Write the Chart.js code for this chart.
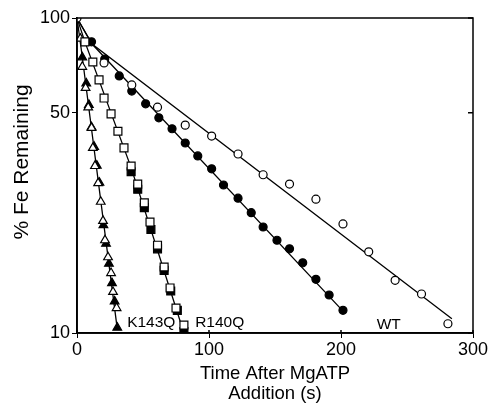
<!DOCTYPE html>
<html>
<head>
<meta charset="utf-8">
<script src="https://cdn.jsdelivr.net/npm/chart.js@4.4.0/dist/chart.umd.min.js"></script>
<style>
  html, body { margin: 0; padding: 0; background: #fff; }
  #wrap { width: 491px; height: 408px; }
</style>
</head>
<body>
<div id="wrap"><canvas id="feChart" width="491" height="408"></canvas></div>
<script>
// Values (time in s, % Fe remaining)
const wtOpenX = [0, 20.5, 41.5, 61, 82, 102, 122, 141, 161, 181, 201.5, 221, 241, 261, 281];
const wtOpenY = [100, 72, 61.3, 52.1, 45.7, 42.2, 37, 31.8, 29.7, 26.6, 22.2, 18.1, 14.7, 13.3, 10.7];

const wtFilledX = [11, 21, 32, 41.5, 52, 62, 72, 82, 91.5, 102, 111, 122, 132, 141, 151.5, 161, 171, 181, 191, 201.5];
const wtFilledY = [84, 74.1, 65.5, 58.6, 53.4, 48.2, 44.5, 40.1, 36.5, 33.2, 29.5, 26.8, 24.1, 21.7, 19.7, 18.5, 16.7, 14.8, 13.2, 11.8];

const r140OpenX = [6, 12, 16.7, 20.5, 25.8, 31, 35.6, 41, 46, 51, 55.3, 61, 66, 70.5, 75, 81];
const r140OpenY = [84, 72.5, 63.6, 55.7, 49.6, 43.7, 38.7, 33.9, 29.7, 25.9, 22.5, 19.0, 16.2, 13.9, 12.0, 10.6];

const r140FilledX = [41, 46, 51, 56, 61, 66, 71, 76, 81];
const r140FilledY = [32.5, 28.6, 25, 21.3, 18.5, 15.8, 13.6, 11.8, 10.1];

const k143OpenX = [2.5, 4, 6.5, 8.5, 11, 12, 13.6, 16, 18, 19.7, 21.2, 23.5, 25.8, 27.3, 30];
const k143OpenY = [86, 70, 60, 52, 44.8, 38.7, 33.9, 29.9, 26.1, 22.7, 19.7, 17.4, 15.5, 13.5, 12];

const k143FilledX = [4, 7, 9, 11, 13, 15, 17, 20, 22, 24.2, 26.5, 28.5, 30.5];
const k143FilledY = [75, 62, 53, 45, 39, 34, 30, 22, 19.2, 16.6, 14.4, 12.6, 10.4];

// fitted lines
const wtOpenFitX = [0, 11.4, 284];
const wtOpenFitY = [100, 82.7, 11.1];
const wtFilledFitX = [0, 11.4, 201];
const wtFilledFitY = [100, 82.7, 11.8];
const r140FitX = [0, 6, 41, 81];
const r140FitY = [100, 84, 33.5, 10];
const k143FitX = [0, 3.5, 30.5];
const k143FitY = [100, 78, 10.3];

const xTicks = [0, 100, 200, 300];
const yTicks = [10, 50, 100];
const labelText = ['K143Q', 'R140Q', 'WT'];
const labelX = [38, 89.5, 227];
const labelY = [10.8, 10.8, 10.6];

const FONT = '"Liberation Sans", Arial, sans-serif';

const pts = (xs, ys) => xs.map((x, i) => ({ x: x, y: ys[i] }));

const fitLine = (xs, ys) => ({
    data: pts(xs, ys),
    showLine: true,
    borderColor: '#000',
    borderWidth: 1.3,
    pointRadius: 0,
    order: 3
});

const marker = (xs, ys, style, r, fill, order) => ({
    data: pts(xs, ys),
    pointStyle: style,
    pointRadius: r,
    pointBackgroundColor: fill,
    pointBorderColor: '#000',
    pointBorderWidth: 1.2,
    showLine: false,
    order: order
});

// box round the plot, inner ticks, curve labels and the y title
const frame = {
    id: 'frame',
    afterDraw(chart) {
        const c = chart.ctx, a = chart.chartArea;
        const xs = chart.scales.x, ys = chart.scales.y;
        c.save();
        c.strokeStyle = '#000';
        c.lineWidth = 1.5;
        c.strokeRect(a.left, a.top, a.right - a.left, a.bottom - a.top);
        c.beginPath();
        yTicks.forEach(v => {
            const py = ys.getPixelForValue(v);
            c.moveTo(a.right, py); c.lineTo(a.right - 5, py);
        });
        xTicks.forEach(v => {
            const px = xs.getPixelForValue(v);
            c.moveTo(px, a.bottom); c.lineTo(px, a.bottom - 3);
        });
        c.stroke();

        c.fillStyle = '#000';
        c.font = '15.5px ' + FONT;
        c.textBaseline = 'middle';
        labelText.forEach((t, i) => {
            c.fillText(t, xs.getPixelForValue(labelX[i]), ys.getPixelForValue(labelY[i]));
        });

        c.font = '21px ' + FONT;
        c.textAlign = 'center';
        c.translate(22, 162);
        c.rotate(-Math.PI / 2);
        c.fillText('% Fe Remaining', 0, 0);
        c.restore();
    }
};

const ctx = document.getElementById('feChart').getContext('2d');
const feChart = new Chart(ctx, {
    type: 'scatter',
    data: {
        datasets: [
            marker(wtOpenX, wtOpenY, 'circle', 4, '#fff', 0),
            marker(r140OpenX, r140OpenY, 'rect', 5.6, '#fff', 0),
            marker(k143OpenX, k143OpenY, 'triangle', 5, '#fff', 0),
            marker(wtFilledX, wtFilledY, 'circle', 4, '#000', 1),
            marker(r140FilledX, r140FilledY, 'rect', 5.6, '#000', 2),
            marker(k143FilledX, k143FilledY, 'triangle', 5, '#000', 2),
            fitLine(wtOpenFitX, wtOpenFitY),
            fitLine(wtFilledFitX, wtFilledFitY),
            fitLine(r140FitX, r140FitY),
            fitLine(k143FitX, k143FitY)
        ]
    },
    options: {
        responsive: false,
        animation: false,
        layout: { padding: { top: 18, right: 18, left: 0, bottom: 0 } },
        plugins: {
            legend: { display: false },
            tooltip: { enabled: false }
        },
        scales: {
            x: {
                type: 'linear',
                min: 0,
                max: 300,
                afterBuildTicks(scale) { scale.ticks = xTicks.map(v => ({ value: v })); },
                ticks: {
                    color: '#000',
                    font: { family: FONT, size: 18 },
                    padding: 1
                },
                grid: { drawOnChartArea: false, color: '#000', tickLength: 5 },
                border: { color: '#000', width: 1.8 },
                title: {
                    display: true,
                    text: ['Time After MgATP', 'Addition (s)'],
                    color: '#000',
                    font: { family: FONT, size: 18.5, lineHeight: 1.1 },
                    padding: { top: 0 }
                },
                afterFit(scale) { scale.height = 75; }
            },
            y: {
                type: 'logarithmic',
                min: 10,
                max: 100,
                afterBuildTicks(scale) { scale.ticks = yTicks.map(v => ({ value: v })); },
                ticks: {
                    color: '#000',
                    font: { family: FONT, size: 18 },
                    padding: 2,
                    callback: v => String(v)
                },
                grid: { drawOnChartArea: false, color: '#000', tickLength: 5 },
                border: { color: '#000', width: 1.8 },
                title: { display: false },
                afterFit(scale) { scale.width = 77; }
            }
        }
    },
    plugins: [frame]
});
</script>
</body>
</html>
